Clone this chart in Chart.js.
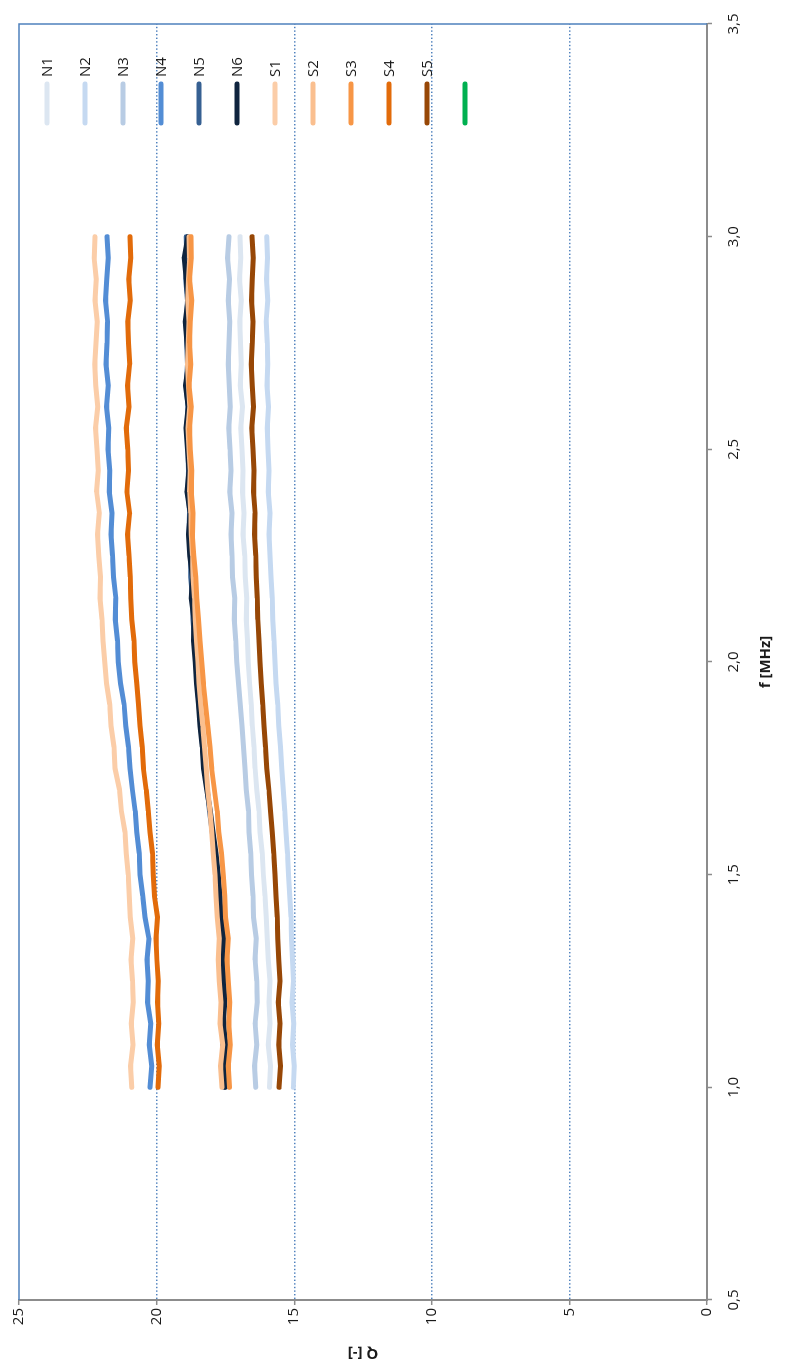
<!DOCTYPE html>
<html>
<head>
<meta charset="utf-8">
<script src="https://cdn.jsdelivr.net/npm/chart.js@4.4.1/dist/chart.umd.min.js"></script>
<style>
  html, body { margin: 0; padding: 0; background: #ffffff; overflow: hidden; }
  body { width: 792px; height: 1369px; position: relative; }
  /* the chart is laid out landscape and turned a quarter turn counter-clockwise */
  #wrap {
    position: absolute; left: 0; top: 0;
    width: 1369px; height: 792px;
    transform-origin: 0 0;
    transform: translateY(1369px) rotate(-90deg);
  }
  canvas { display: block; }
</style>
</head>
<body>
<div id="wrap"><canvas id="chart" width="1369" height="792" style="width:1369px;height:792px"></canvas></div>
<script>
// frequency grid [MHz]
const freq = [1.00, 1.05, 1.10, 1.15, 1.20, 1.25, 1.30, 1.35, 1.40, 1.45, 1.50,
              1.55, 1.60, 1.65, 1.70, 1.75, 1.80, 1.85, 1.90, 1.95, 2.00,
              2.05, 2.10, 2.15, 2.20, 2.25, 2.30, 2.35, 2.40, 2.45, 2.50,
              2.55, 2.60, 2.65, 2.70, 2.75, 2.80, 2.85, 2.90, 2.95, 3.00];

// quality factor Q [-] per sample
const N1 = [15.90, 15.86, 15.94, 15.88, 15.92, 15.88, 15.94, 15.98, 16.02, 16.06, 16.12,
            16.16, 16.24, 16.28, 16.36, 16.42, 16.46, 16.52, 16.56, 16.62, 16.67,
            16.70, 16.74, 16.72, 16.78, 16.80, 16.86, 16.82, 16.88, 16.86, 16.90,
            16.94, 16.88, 16.96, 16.92, 16.95, 16.98, 16.92, 16.99, 16.94, 16.97];
const N2 = [15.03, 15.00, 15.06, 15.02, 15.08, 15.03, 15.06, 15.10, 15.12, 15.16, 15.21,
            15.24, 15.30, 15.34, 15.40, 15.45, 15.50, 15.56, 15.60, 15.66, 15.70,
            15.73, 15.78, 15.80, 15.84, 15.88, 15.92, 15.88, 15.94, 15.92, 15.95,
            15.98, 15.93, 15.99, 15.96, 15.98, 16.02, 15.96, 16.01, 15.97, 16.00];
const N3 = [16.40, 16.44, 16.36, 16.42, 16.34, 16.36, 16.42, 16.38, 16.48, 16.50, 16.55,
            16.58, 16.64, 16.66, 16.74, 16.79, 16.84, 16.90, 16.96, 17.02, 17.09,
            17.12, 17.18, 17.16, 17.24, 17.26, 17.30, 17.26, 17.34, 17.30, 17.33,
            17.38, 17.32, 17.36, 17.40, 17.37, 17.34, 17.40, 17.35, 17.42, 17.37];
const N4 = [20.24, 20.18, 20.27, 20.21, 20.33, 20.30, 20.35, 20.28, 20.42, 20.50, 20.60,
            20.63, 20.72, 20.78, 20.88, 20.97, 21.02, 21.12, 21.18, 21.31, 21.39,
            21.42, 21.50, 21.48, 21.57, 21.60, 21.66, 21.62, 21.72, 21.70, 21.77,
            21.74, 21.82, 21.76, 21.84, 21.80, 21.78, 21.86, 21.81, 21.76, 21.80];
const N5 = [17.55, 17.50, 17.60, 17.54, 17.62, 17.58, 17.63, 17.60, 17.70, 17.74, 17.80,
            17.88, 17.98, 18.08, 18.16, 18.26, 18.32, 18.40, 18.46, 18.52, 18.56,
            18.62, 18.68, 18.70, 18.76, 18.76, 18.82, 18.80, 18.86, 18.84, 18.86,
            18.90, 18.86, 18.92, 18.88, 18.90, 18.92, 18.88, 18.94, 18.90, 18.92];
const N6 = [17.50, 17.56, 17.48, 17.58, 17.52, 17.55, 17.60, 17.55, 17.66, 17.70, 17.76,
            17.84, 17.95, 18.05, 18.18, 18.30, 18.34, 18.42, 18.48, 18.55, 18.60,
            18.66, 18.64, 18.74, 18.70, 18.80, 18.84, 18.78, 18.90, 18.82, 18.88,
            18.93, 18.85, 18.95, 18.84, 18.90, 18.96, 18.86, 18.92, 19.00, 18.86];
const S1 = [20.90, 20.95, 20.86, 20.92, 20.85, 20.88, 20.93, 20.87, 20.96, 20.99, 21.03,
            21.10, 21.15, 21.28, 21.35, 21.51, 21.55, 21.66, 21.70, 21.82, 21.88,
            21.95, 21.98, 22.06, 22.04, 22.10, 22.15, 22.08, 22.18, 22.12, 22.17,
            22.22, 22.14, 22.21, 22.25, 22.20, 22.16, 22.24, 22.19, 22.27, 22.24];
const S2 = [17.62, 17.68, 17.60, 17.70, 17.66, 17.72, 17.76, 17.72, 17.80, 17.84, 17.88,
            17.94, 18.00, 18.06, 18.14, 18.20, 18.26, 18.32, 18.40, 18.46, 18.50,
            18.55, 18.60, 18.62, 18.68, 18.70, 18.74, 18.76, 18.80, 18.78, 18.82,
            18.86, 18.80, 18.84, 18.88, 18.85, 18.82, 18.87, 18.84, 18.80, 18.82];
const S3 = [17.35, 17.40, 17.32, 17.38, 17.34, 17.40, 17.44, 17.40, 17.50, 17.52, 17.58,
            17.64, 17.74, 17.80, 17.90, 18.00, 18.06, 18.14, 18.22, 18.30, 18.36,
            18.42, 18.48, 18.54, 18.58, 18.65, 18.70, 18.68, 18.74, 18.72, 18.78,
            18.80, 18.74, 18.82, 18.76, 18.80, 18.78, 18.72, 18.80, 18.74, 18.75];
const S4 = [19.95, 19.90, 19.98, 19.92, 19.97, 19.94, 19.99, 20.02, 19.97, 20.08, 20.12,
            20.15, 20.24, 20.30, 20.38, 20.48, 20.52, 20.60, 20.66, 20.72, 20.79,
            20.82, 20.90, 20.94, 20.96, 21.00, 21.06, 20.98, 21.08, 21.02, 21.05,
            21.10, 21.00, 21.06, 20.98, 21.02, 21.05, 20.96, 21.01, 20.94, 20.97];
const S5 = [15.55, 15.50, 15.56, 15.52, 15.58, 15.52, 15.56, 15.60, 15.62, 15.66, 15.70,
            15.74, 15.80, 15.86, 15.92, 16.00, 16.04, 16.10, 16.14, 16.20, 16.24,
            16.28, 16.32, 16.34, 16.38, 16.40, 16.44, 16.42, 16.48, 16.46, 16.50,
            16.54, 16.48, 16.52, 16.56, 16.52, 16.50, 16.55, 16.52, 16.49, 16.53];

const seriesNames  = ['N1', 'N2', 'N3', 'N4', 'N5', 'N6', 'S1', 'S2', 'S3', 'S4', 'S5', ''];
const seriesValues = [N1, N2, N3, N4, N5, N6, S1, S2, S3, S4, S5, []];
const seriesColors = ['#DCE6F1', '#C5D9F1', '#B8CCE4', '#538DD5', '#366092', '#0F243E',
                      '#FBCDA8', '#FABF8F', '#F79646', '#E26B0A', '#974706', '#00B050'];

const fTicks = [0.5, 1.0, 1.5, 2.0, 2.5, 3.0, 3.5];
const qTicks = [0, 5, 10, 15, 20, 25];

const FONT = '"Open Sans", "Noto Sans", sans-serif';
const AXIS_GRAY = '#8c8c8c';
const FRAME_BLUE = '#4f81bd';
const TEXT = '#1a1a1a';

const datasets = seriesNames.map((name, k) => ({
  label: name,
  data: seriesValues[k].map((q, i) => ({ x: freq[i], y: q })),
  borderColor: seriesColors[k],
  backgroundColor: seriesColors[k],
  borderWidth: 5,
  pointRadius: 0,
  tension: 0,
  fill: false,
  borderJoinStyle: 'round',
  borderCapStyle: 'round',
  order: -k            // later series are painted on top
}));

// white page, plus the blue frame on the far sides of the plot
const framePlugin = {
  id: 'frame',
  beforeDraw(chart) {
    const c = chart.ctx;
    c.save();
    c.fillStyle = '#ffffff';
    c.fillRect(0, 0, chart.width, chart.height);
    c.restore();
  },
  beforeDatasetsDraw(chart) {
    const { ctx: c, chartArea: a } = chart;
    c.save();
    c.strokeStyle = FRAME_BLUE;
    c.lineWidth = 1.5;
    c.beginPath();
    c.moveTo(a.left, a.top);
    c.lineTo(a.right, a.top);
    c.lineTo(a.right, a.bottom);
    c.stroke();
    c.restore();
  }
};

// legend inside the plot, one entry per row, short line then name
const insideLegend = {
  id: 'insideLegend',
  afterDatasetsDraw(chart) {
    const { ctx: c, chartArea: a } = chart;
    c.save();
    c.font = '15px ' + FONT;
    c.textAlign = 'left';
    c.textBaseline = 'middle';
    chart.data.datasets.forEach((ds, i) => {
      const y = a.top + 28 + i * 38;
      c.strokeStyle = ds.borderColor;
      c.lineWidth = 5;
      c.lineCap = 'round';
      c.beginPath();
      c.moveTo(a.right - 99, y);
      c.lineTo(a.right - 60, y);
      c.stroke();
      c.fillStyle = TEXT;
      c.fillText(ds.label, a.right - 53, y + 1);
    });
    c.restore();
  }
};

new Chart(document.getElementById('chart'), {
  type: 'line',
  data: { datasets },
  options: {
    responsive: false,
    animation: false,
    devicePixelRatio: 1,
    layout: { padding: { left: 0, top: 19, right: 24, bottom: 0 } },
    plugins: { legend: { display: false }, tooltip: { enabled: false } },
    scales: {
      x: {
        type: 'linear',
        min: fTicks[0],
        max: fTicks[fTicks.length - 1],
        afterFit(s) { s.height = 85; },
        afterBuildTicks(s) { s.ticks = fTicks.map(v => ({ value: v })); },
        ticks: {
          autoSkip: false,
          maxRotation: 0,
          padding: 13,
          color: TEXT,
          font: { family: FONT, size: 15 },
          callback: v => Number(v).toFixed(1).replace('.', ',')
        },
        grid: {
          drawOnChartArea: false,
          drawTicks: true,
          tickLength: 5,
          tickColor: AXIS_GRAY,
          tickWidth: 1.5
        },
        border: { display: true, color: AXIS_GRAY, width: 2 },
        title: {
          display: true,
          text: 'f [MHz]',
          color: TEXT,
          font: { family: FONT, size: 15, weight: 'bold' },
          padding: { top: 0, bottom: 17 }
        }
      },
      y: {
        type: 'linear',
        min: qTicks[0],
        max: qTicks[qTicks.length - 1],
        afterFit(s) { s.width = 69; },
        afterBuildTicks(s) { s.ticks = qTicks.map(v => ({ value: v })); },
        ticks: {
          autoSkip: false,
          padding: 3,
          color: TEXT,
          font: { family: FONT, size: 15 }
        },
        grid: {
          drawOnChartArea: true,
          drawTicks: true,
          tickLength: 5,
          tickColor: AXIS_GRAY,
          tickWidth: 1.5,
          lineWidth: 1.4,
          color: ctx => (ctx.tick && (ctx.tick.value === qTicks[0] || ctx.tick.value === qTicks[qTicks.length - 1]))
            ? 'rgba(0,0,0,0)' : FRAME_BLUE
        },
        border: { display: true, color: AXIS_GRAY, width: 2, dash: [1.4, 2.2] },
        title: {
          display: true,
          text: 'Q [-]',
          color: TEXT,
          font: { family: FONT, size: 15, weight: 'bold' },
          padding: { top: 7, bottom: 0 }
        }
      }
    }
  },
  plugins: [framePlugin, insideLegend]
});
</script>
</body>
</html>
